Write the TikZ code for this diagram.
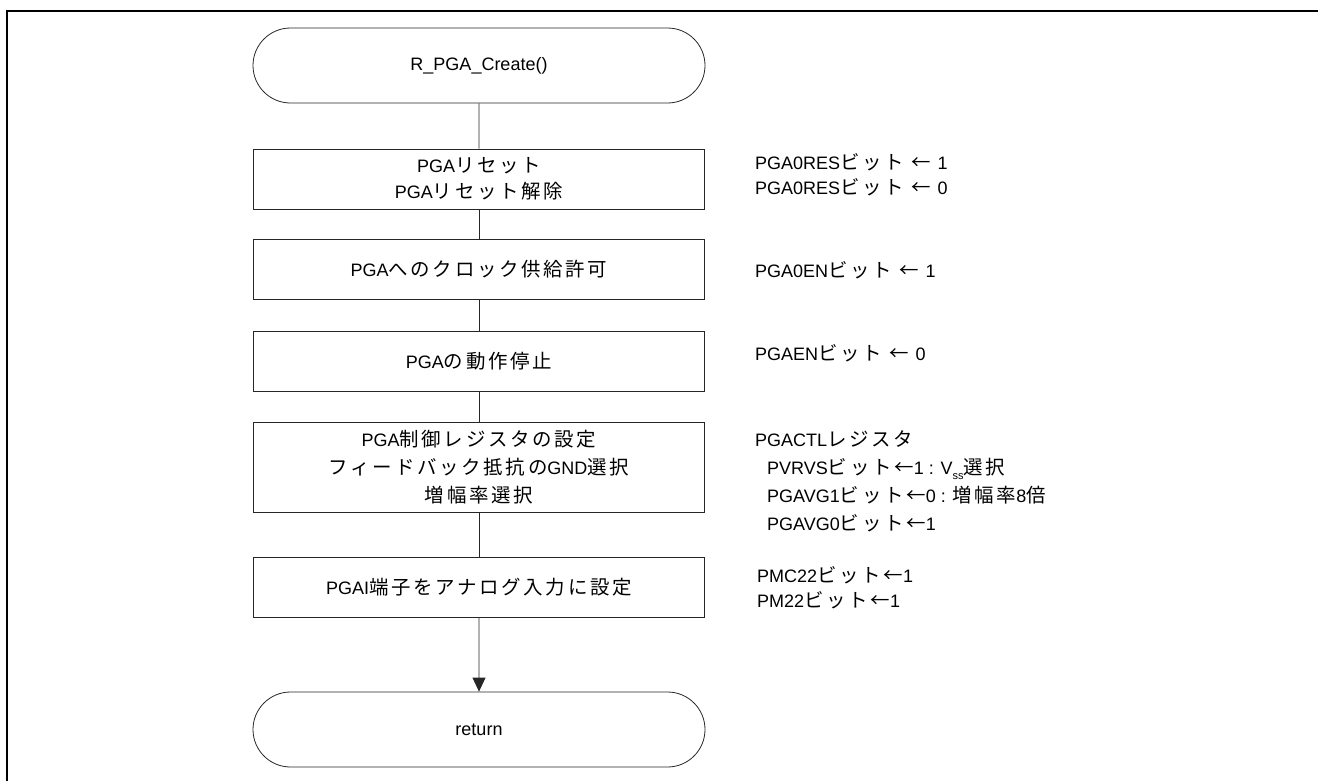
\documentclass[tikz,border=0pt]{standalone}
\usepackage{fontspec}
\setmainfont{Liberation Sans}
\newfontfamily\jp[Scale=1.08,LetterSpace=14]{Noto Sans CJK JP}
\newcommand\J[1]{{\jp #1}}
\usetikzlibrary{arrows.meta,shapes.misc}
\tikzset{
  procbox/.style={draw=black!85, line width=0.8pt, rectangle, minimum width=451pt, minimum height=60pt, inner sep=0pt, align=center, font=\fontsize{18pt}{26pt}\selectfont},
  termbox/.style={draw=black!85, line width=0.8pt, rounded rectangle, minimum width=452pt, minimum height=75pt, inner sep=0pt, align=center, font=\fontsize{18pt}{27pt}\selectfont},
  note/.style={anchor=west, inner sep=0pt, align=left, font=\fontsize{18pt}{25pt}\selectfont},
  conn/.style={draw=black!85, line width=0.8pt},
}
\begin{document}
\begin{tikzpicture}[x=1pt,y=-1pt]
\useasboundingbox (0,0) rectangle (1318,780);
\draw[line width=2pt] (7,781) -- (7,11) -- (1319,11);

\node[termbox] (start) at (479,65.5) {R\_PGA\_Create()};
\node[procbox] (b1) at (479,179) {PGA\J{リセット}\\PGA\J{リセット解除}};
\node[procbox] (b2) at (479,269) {PGA\J{へのクロック供給許可}};
\node[procbox] (b3) at (479,361) {PGA\J{の動作停止}};
\node[procbox, minimum height=90pt, font=\fontsize{18pt}{28pt}\selectfont] (b4) at (479,467) {PGA\J{制御レジスタの設定}\\\J{フィードバック抵抗の}GND\J{選択}\\\J{増幅率選択}};
\node[procbox] (b5) at (479,587) {PGAI\J{端子をアナログ入力に設定}};
\node[termbox] (ret) at (479,729.5) {return};

\draw[conn] (start) -- (b1);
\draw[conn] (b1) -- (b2);
\draw[conn] (b2) -- (b3);
\draw[conn] (b3) -- (b4);
\draw[conn] (b4) -- (b5);
\draw[conn, -{Triangle[width=13pt,length=14pt]}] (b5) -- (ret);

\node[note] (n1) at (755,175) {PGA0RES\J{ビット ← }1\\PGA0RES\J{ビット ← }0};
\node[note] (n2) at (755,270) {PGA0EN\J{ビット ← }1};
\node[note] (n3) at (755,353) {PGAEN\J{ビット ← }0};
\node[note, font=\fontsize{18pt}{28pt}\selectfont] (n4) at (755,481) {PGACTL\J{レジスタ}\\\hspace*{12pt}PVRVS\J{ビット←}1 : V\raisebox{-0.3em}{\fontsize{11pt}{11pt}\selectfont ss}\J{選択}\\\hspace*{12pt}PGAVG1\J{ビット←}0 : \J{増幅率}8\J{倍}\\\hspace*{12pt}PGAVG0\J{ビット←}1};
\node[note] (n5) at (757,588) {PMC22\J{ビット←}1\\PM22\J{ビット←}1};
\end{tikzpicture}
\end{document}
